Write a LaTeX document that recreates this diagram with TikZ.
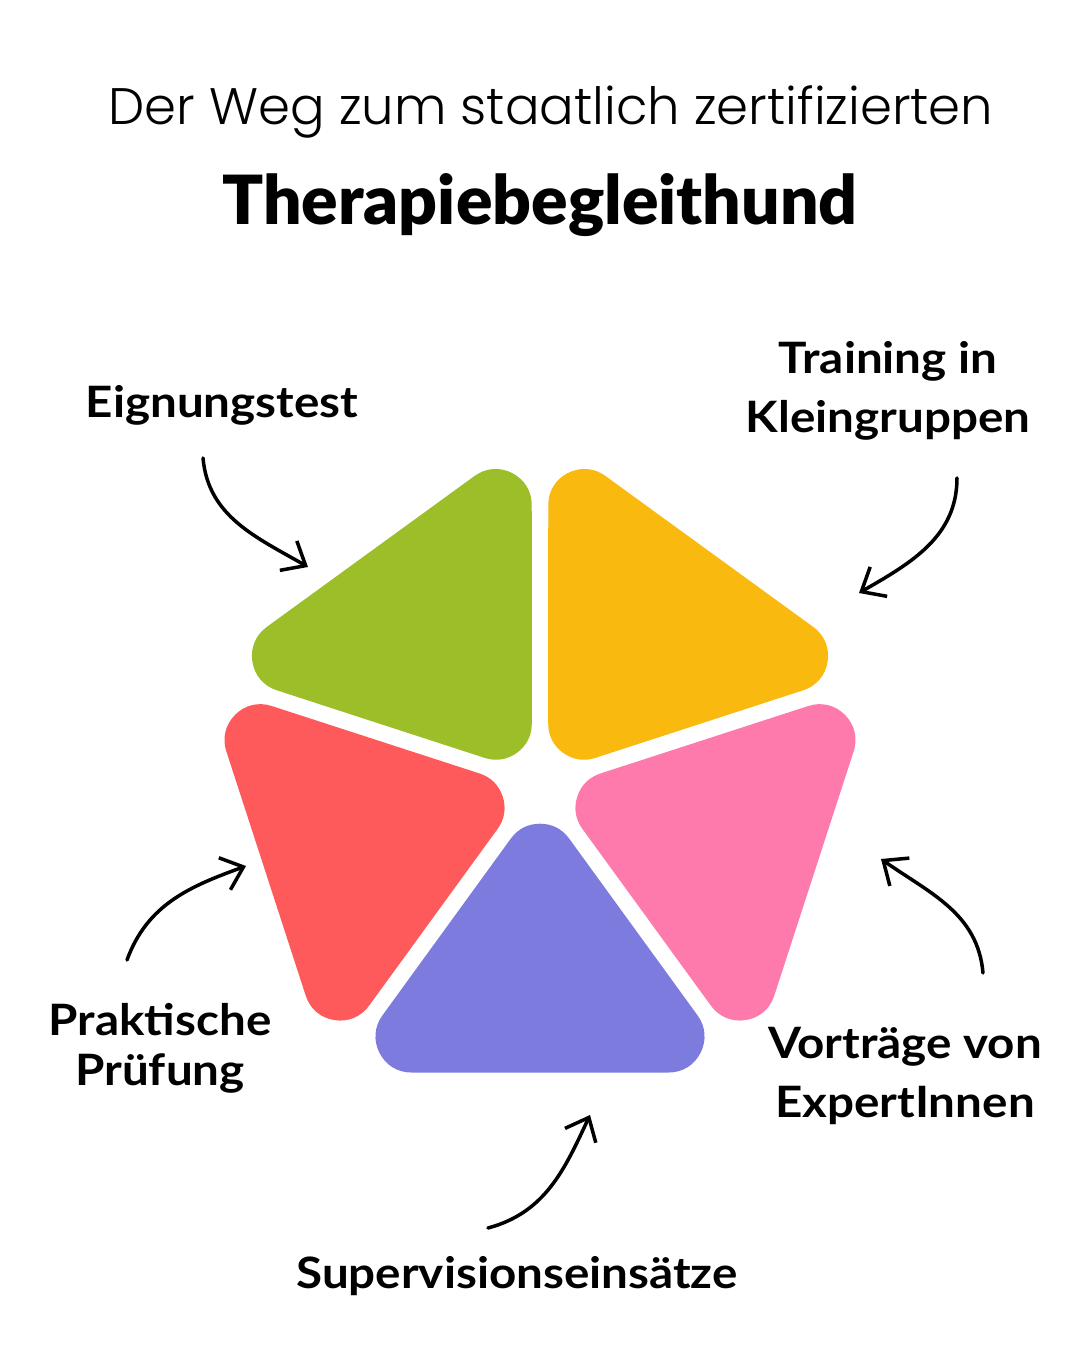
\documentclass[tikz,border=0pt]{standalone}
\usepackage{fontspec}
\setmainfont{Lato}[FakeStretch=1.1]
\newfontfamily\thinfont{Poppins Light}
\newfontfamily\heavyfont{Lato Black}
\usetikzlibrary{arrows.meta}
\definecolor{petalgreen}{HTML}{9CBF29}
\definecolor{petalyellow}{HTML}{F9B90F}
\definecolor{petalpink}{HTML}{FE7AAD}
\definecolor{petalblue}{HTML}{7D7CDE}
\definecolor{petalred}{HTML}{FF5A5B}

\begin{document}
\begin{tikzpicture}[
    petal/.style={fill=#1, draw=#1, line width=0.72cm, line join=round},
    stage/.style={align=center, inner sep=0pt, font=\fontsize{12.3}{17}\selectfont\bfseries},
    tightstage/.style={stage, font=\fontsize{12.3}{14.2}\selectfont\bfseries},
    hand/.style={-{Straight Barb[length=2mm, width=3.4mm]}, line width=1pt, line cap=round}
]
    \useasboundingbox (0,0) rectangle (10.8,13.5);

    % heading
    \node[font=\thinfont\fontsize{14.6}{17}\selectfont] (subtitle) at (5.51,12.38) {Der Weg zum staatlich zertifizierten};
    \node[font=\heavyfont\fontsize{19.3}{23}\selectfont] (title) at (5.40,11.45) {Therapiebegleithund};

    % pentagon of rounded triangles
    \begin{scope}[shift={(5.40,5.655)}]
        \foreach \ang/\col in {126/petalgreen, 54/petalyellow, -18/petalpink, -90/petalblue, 198/petalred}
            \filldraw[petal=\col] (\ang:0.752) -- (\ang+27:2.829) -- (\ang-27:2.829) -- cycle;
    \end{scope}

    % stages
    \node[stage] (eignung) at (2.22,9.45) {Eignungstest};
    \node[stage] (training) at (8.88,9.59) {Training in\\Kleingruppen};
    \node[stage] (vortrag) at (9.05,2.74) {Vorträge von\\ExpertInnen};
    \node[stage] (supervision) at (5.17,0.74) {Supervisionseinsätze};
    \node[tightstage] (pruefung) at (1.60,3.02) {Praktische\\Prüfung};

    % arrows
    \coordinate (eignung-from) at (2.03,8.92);
    \coordinate (eignung-to) at (3.08,7.83);
    \coordinate (training-from) at (9.57,8.72);
    \coordinate (training-to) at (8.59,7.57);
    \coordinate (vortrag-from) at (9.83,3.77);
    \coordinate (vortrag-to) at (8.81,4.91);
    \coordinate (supervision-from) at (4.88,1.22);
    \coordinate (supervision-to) at (5.90,2.35);
    \coordinate (pruefung-from) at (1.27,3.90);
    \coordinate (pruefung-to) at (2.46,4.84);
    \draw[hand] (eignung-from) to[out=-85, in=150] (eignung-to);
    \draw[hand] (training-from) to[out=-90, in=30] (training-to);
    \draw[hand] (vortrag-from) to[out=95, in=-35] (vortrag-to);
    \draw[hand] (supervision-from) to[out=15, in=245] (supervision-to);
    \draw[hand] (pruefung-from) to[out=70, in=200] (pruefung-to);
\end{tikzpicture}
\end{document}
